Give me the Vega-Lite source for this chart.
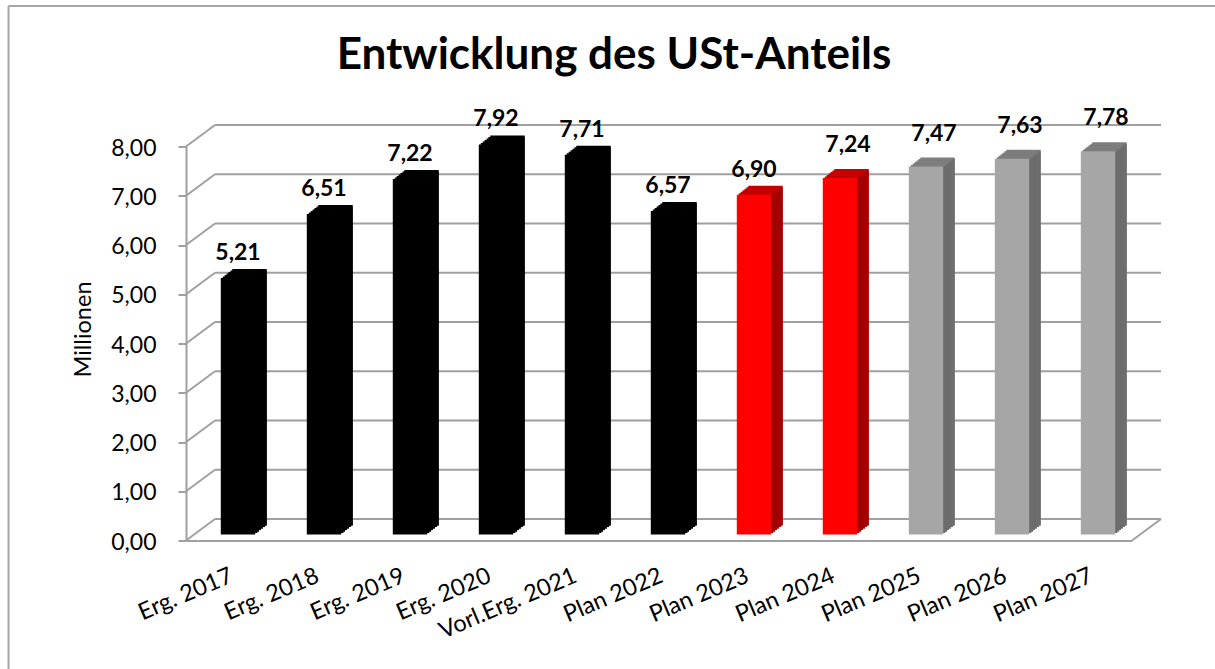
{
"$schema":"https://vega.github.io/schema/vega-lite/v6.json",
"width":946,"height":394,
"autosize":"none",
"padding":{"left":186,"top":146.5,"right":83,"bottom":128.5},
"background":"white",
"title":{"text":"Entwicklung des USt-Anteils","font":"Lato","fontSize":44,"fontWeight":"bold","color":"black","anchor":"middle","dx":-45,"offset":0,"dy":73},
"config":{"view":{"stroke":null},"text":{"font":"Lato"}},
"datasets":{
"bars":[
{"cat":"Erg. 2017","v":5.21,"label":"5,21","status":"Ergebnis","spaet":false},
{"cat":"Erg. 2018","v":6.51,"label":"6,51","status":"Ergebnis","spaet":false},
{"cat":"Erg. 2019","v":7.22,"label":"7,22","status":"Ergebnis","spaet":false},
{"cat":"Erg. 2020","v":7.92,"label":"7,92","status":"Ergebnis","spaet":false},
{"cat":"Vorl.Erg. 2021","v":7.71,"label":"7,71","status":"Ergebnis","spaet":false},
{"cat":"Plan 2022","v":6.57,"label":"6,57","status":"Ergebnis","spaet":false},
{"cat":"Plan 2023","v":6.90,"label":"6,90","status":"Aktuell","spaet":false},
{"cat":"Plan 2024","v":7.24,"label":"7,24","status":"Aktuell","spaet":true},
{"cat":"Plan 2025","v":7.47,"label":"7,47","status":"Zukunft","spaet":true},
{"cat":"Plan 2026","v":7.63,"label":"7,63","status":"Zukunft","spaet":true},
{"cat":"Plan 2027","v":7.78,"label":"7,78","status":"Zukunft","spaet":true}
],
"grid":[{"v":0},{"v":1},{"v":2},{"v":3},{"v":4},{"v":5},{"v":6},{"v":7},{"v":8}]
},
"resolve":{"scale":{"x":"independent"},"axis":{"x":"independent"}},
"layer":[
{
"layer":[
{"data":{"name":"grid"},
 "mark":{"type":"rule","stroke":"#a0a0a0","strokeWidth":2,"xOffset":29,"x2Offset":29,"yOffset":-21.5},
 "encoding":{
  "x":{"datum":0,"type":"quantitative","scale":{"domain":[0,1]},"axis":null},
  "x2":{"datum":1},
  "y":{"field":"v","type":"quantitative","scale":{"domain":[0,8],"nice":false,"zero":false},
   "axis":{"title":"Millionen","titleFont":"Lato","titleFontWeight":"normal","titleFontSize":23.5,"titleColor":"black","titleX":-96,"titleY":182.5,"titleBaseline":"alphabetic",
    "labelFont":"Lato","labelFontSize":23,"labelColor":"black","labelPadding":22,"labelOffset":1.5,
    "labelExpr":"replace(format(datum.value,'.2f'),'.',',')","values":[0,1,2,3,4,5,6,7,8],
    "grid":false,"domainColor":"#a0a0a0","domainWidth":2,"tickColor":"#a0a0a0","tickWidth":2,"tickSize":8}}
 }},
{"data":{"name":"grid"},
 "mark":{"type":"rule","stroke":"#a0a0a0","strokeWidth":2,"x2Offset":29,"y2Offset":-21.5},
 "encoding":{
  "x":{"datum":0,"type":"quantitative"},
  "x2":{"datum":0},
  "y":{"field":"v","type":"quantitative"},
  "y2":{"field":"v"}
 }},
{"data":{"values":[{"v":0}]},
 "mark":{"type":"rule","stroke":"#a0a0a0","strokeWidth":2,"x2Offset":29,"y2Offset":-21.5},
 "encoding":{
  "x":{"datum":1,"type":"quantitative"},
  "x2":{"datum":1},
  "y":{"field":"v","type":"quantitative"},
  "y2":{"field":"v"}
 }},
{"data":{"values":[{"x":-0.1876,"x2":-0.1876,"y":-2.7,"y2":10.853},{"x":-0.1876,"x2":1.1,"y":10.853,"y2":10.853}]},
 "mark":{"type":"rule","stroke":"#a6a6a6","strokeWidth":2},
 "encoding":{
  "x":{"field":"x","type":"quantitative"},
  "x2":{"field":"x2"},
  "y":{"field":"y","type":"quantitative"},
  "y2":{"field":"y2"}
 }}
]
},
{
"data":{"name":"bars"},
"encoding":{
 "x":{"field":"cat","type":"nominal","sort":null,"scale":{"paddingInner":0.6,"paddingOuter":0.3},
  "axis":{"orient":"bottom","title":null,"labelFont":"Lato","labelFontSize":23.5,"labelColor":"black","labelAngle":-23,"labelAlign":"right","labelBaseline":"top","labelPadding":23,"labelOffset":-2,"labelOverlap":false,"labelBound":false,"labelFlush":false,"ticks":false,"domainColor":"#a0a0a0","domainWidth":2,"grid":false}},
 "y":{"field":"v","type":"quantitative"},
 "y2":{"datum":0}
},
"layer":[
{"mark":{"type":"bar","xOffset":20.5,"yOffset":-15,"y2Offset":-15},"encoding":{"color":{"condition":[{"test":"datum.status=='Ergebnis'","value":"black"},{"test":"datum.status=='Aktuell'","value":"#c80000"}],"value":"#7f7f7f"}}},
{"mark":{"type":"bar","xOffset":20.5,"yOffset":-13.5,"y2Offset":-15},"encoding":{"color":{"condition":[{"test":"datum.status=='Ergebnis'","value":"black"},{"test":"datum.status=='Aktuell'","value":"#a00000"}],"value":"#6c6c6c"}}},
{"mark":{"type":"bar","xOffset":18.6,"yOffset":-13.5,"y2Offset":-13.5},"encoding":{"color":{"condition":[{"test":"datum.status=='Ergebnis'","value":"black"},{"test":"datum.status=='Aktuell'","value":"#c80000"}],"value":"#7f7f7f"}}},
{"mark":{"type":"bar","xOffset":18.6,"yOffset":-12,"y2Offset":-13.5},"encoding":{"color":{"condition":[{"test":"datum.status=='Ergebnis'","value":"black"},{"test":"datum.status=='Aktuell'","value":"#a00000"}],"value":"#6c6c6c"}}},
{"mark":{"type":"bar","xOffset":16.7,"yOffset":-12,"y2Offset":-12},"encoding":{"color":{"condition":[{"test":"datum.status=='Ergebnis'","value":"black"},{"test":"datum.status=='Aktuell'","value":"#c80000"}],"value":"#7f7f7f"}}},
{"mark":{"type":"bar","xOffset":16.7,"yOffset":-10.5,"y2Offset":-12},"encoding":{"color":{"condition":[{"test":"datum.status=='Ergebnis'","value":"black"},{"test":"datum.status=='Aktuell'","value":"#a00000"}],"value":"#6c6c6c"}}},
{"mark":{"type":"bar","xOffset":14.8,"yOffset":-10.5,"y2Offset":-10.5},"encoding":{"color":{"condition":[{"test":"datum.status=='Ergebnis'","value":"black"},{"test":"datum.status=='Aktuell'","value":"#c80000"}],"value":"#7f7f7f"}}},
{"mark":{"type":"bar","xOffset":14.8,"yOffset":-9,"y2Offset":-10.5},"encoding":{"color":{"condition":[{"test":"datum.status=='Ergebnis'","value":"black"},{"test":"datum.status=='Aktuell'","value":"#a00000"}],"value":"#6c6c6c"}}},
{"mark":{"type":"bar","xOffset":12.9,"yOffset":-9,"y2Offset":-9},"encoding":{"color":{"condition":[{"test":"datum.status=='Ergebnis'","value":"black"},{"test":"datum.status=='Aktuell'","value":"#c80000"}],"value":"#7f7f7f"}}},
{"mark":{"type":"bar","xOffset":12.9,"yOffset":-7.5,"y2Offset":-9},"encoding":{"color":{"condition":[{"test":"datum.status=='Ergebnis'","value":"black"},{"test":"datum.status=='Aktuell'","value":"#a00000"}],"value":"#6c6c6c"}}},
{"mark":{"type":"bar","xOffset":11,"yOffset":-7.5,"y2Offset":-7.5},"encoding":{"color":{"condition":[{"test":"datum.status=='Ergebnis'","value":"black"},{"test":"datum.status=='Aktuell'","value":"#c80000"}],"value":"#7f7f7f"}}},
{"mark":{"type":"bar","xOffset":11,"yOffset":-6,"y2Offset":-7.5},"encoding":{"color":{"condition":[{"test":"datum.status=='Ergebnis'","value":"black"},{"test":"datum.status=='Aktuell'","value":"#a00000"}],"value":"#6c6c6c"}}},
{"mark":{"type":"bar","xOffset":9,"yOffset":-6,"y2Offset":-6},"encoding":{"color":{"condition":[{"test":"datum.status=='Ergebnis'","value":"black"},{"test":"datum.status=='Aktuell'","value":"#ff0000"}],"value":"#a6a6a6"}}},
{"transform":[{"filter":"!datum.spaet"}],
 "mark":{"type":"text","font":"Lato","fontWeight":"bold","fontSize":23,"color":"black","dx":9,"dy":-24,"baseline":"alphabetic"},
 "encoding":{"y2":null,"text":{"field":"label"}}},
{"transform":[{"filter":"datum.spaet"}],
 "mark":{"type":"text","font":"Lato","fontWeight":"bold","fontSize":23,"color":"black","dx":17,"dy":-32,"baseline":"alphabetic"},
 "encoding":{"y2":null,"text":{"field":"label"}}}
]
}
]
}
